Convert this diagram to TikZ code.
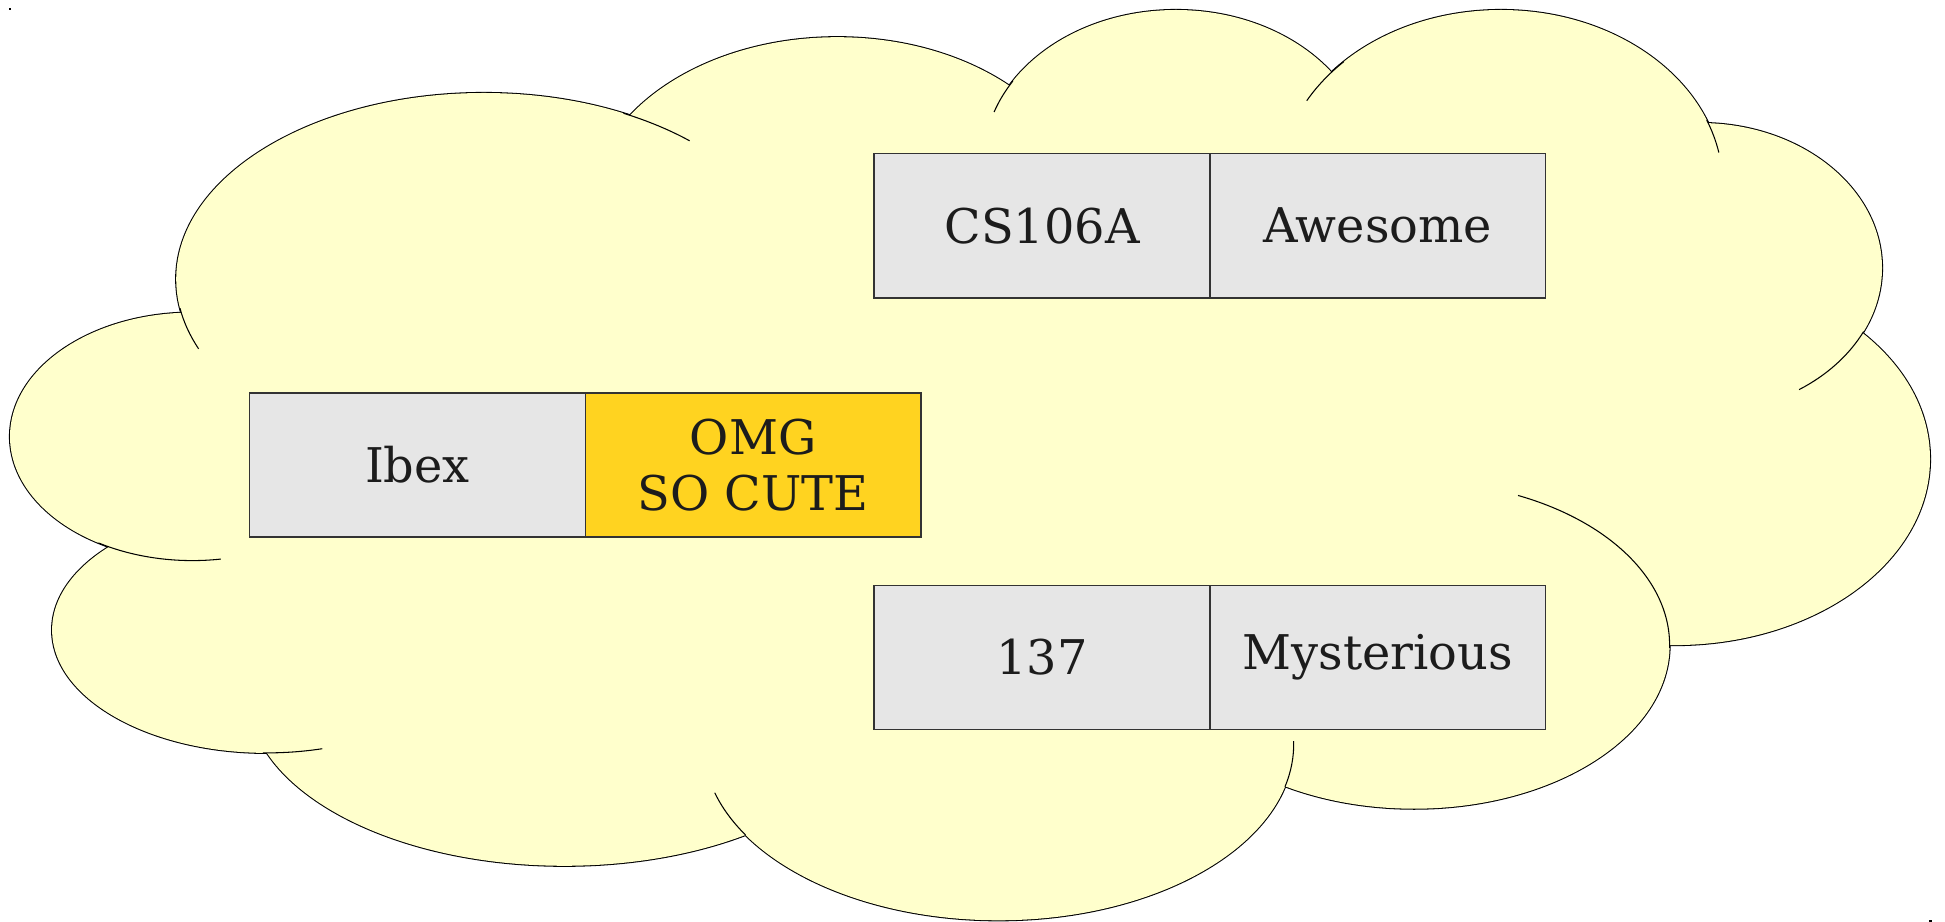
\documentclass[tikz,border=0pt]{standalone}
\usepackage{fontspec}
\setmainfont{DejaVu Serif}
\usepackage{tikz}
\usetikzlibrary{positioning}
\definecolor{cloudbg}{HTML}{FFFFCC}
\definecolor{cellgray}{HTML}{E6E6E6}
\definecolor{cellgold}{HTML}{FFD320}
\definecolor{celltext}{HTML}{1C1C1C}
\tikzset{
  cloudedge/.style = {fill=cloudbg,draw=black,line width=0.6pt},
  cloudfill/.style = {fill=cloudbg},
  cloudline/.style = {draw=black,line width=0.3pt},
  cell/.style      = {draw=black!80,line width=0.4pt,fill=cellgray,text=celltext,
                      minimum width=3.355cm,minimum height=1.44cm,inner sep=0pt,
                      outer sep=0pt,align=center,
                      font=\fontsize{13.6}{15.7}\selectfont},
  hot/.style       = {cell,fill=cellgold},
}
% all lobes of the cloud, one style applied to each
\newcommand{\cloudlobes}[1]{%
  \foreach \cx/\cy/\rx/\ry in {192.3/436.6/182.3/124.0, 483.8/279.1/307.6/186.1,
      837.3/210.9/248.1/173.7, 1175.9/161.3/192.3/151.3, 1500.9/186.1/222.0/176.1,
      1700.0/268.0/182.0/145.0, 1674.5/459.0/255.5/186.1, 1414.1/645.0/255.5/163.7,
      998.5/744.2/295.2/176.1, 564.4/694.6/316.3/171.2, 266.7/630.1/214.6/122.8}
    {\path[#1] (\cx,\cy) ellipse[x radius=\rx,y radius=\ry];}%
}
% piece of a lobe outline running on inside the cloud
\newcommand{\cloudstub}[6]{%
  \draw[cloudline] (#1,#2) ++(#5:#3 and #4)
    arc[start angle=#5,end angle=#6,x radius=#3,y radius=#4];%
}

\begin{document}
\begin{tikzpicture}[x=0.01cm,y=-0.01cm]
  \useasboundingbox (0,0) rectangle (1945,922);

  % outline first, then fill over it so only the outer edge is left
  \cloudlobes{cloudedge}
  \cloudlobes{cloudfill}
  \fill[cloudfill] (192,437) -- (484,279) -- (837,211) -- (1176,161) -- (1501,186)
    -- (1700,268) -- (1675,459) -- (1414,645) -- (999,744) -- (564,695)
    -- (267,630) -- cycle;

  \cloudstub{192.3}{436.6}{182.3}{124.0}{121}{81}
  \cloudstub{483.8}{279.1}{307.6}{186.1}{171}{158}
  \cloudstub{483.8}{279.1}{307.6}{186.1}{297}{312}
  \cloudstub{1175.9}{161.3}{192.3}{151.3}{212}{199}
  \cloudstub{1500.9}{186.1}{222.0}{176.1}{225}{209}
  \cloudstub{1500.9}{186.1}{222.0}{176.1}{338}{349}
  \cloudstub{1700.0}{268.0}{182.0}{145.0}{26}{57}
  \cloudstub{1414.1}{645.0}{255.5}{163.7}{361}{294}
  \cloudstub{998.5}{744.2}{295.2}{176.1}{14}{-1}
  \cloudstub{998.5}{744.2}{295.2}{176.1}{149}{164}
  \cloudstub{266.7}{630.1}{214.6}{122.8}{91}{75}

  % corner marks
  \fill (9,8) rectangle (11,10);
  \fill (1929,920) rectangle (1932,922);

  \node[cell] (cs106a) at (1042,225.8) {CS106A};
  \node[cell,right=0pt of cs106a] (awesome) {Awesome};
  \node[cell] (ibex) at (417.4,465.1) {Ibex};
  \node[hot,right=0pt of ibex] (omg) {OMG\\SO CUTE};
  \node[cell] (num137) at (1042,657.4) {137};
  \node[cell,right=0pt of num137] (mysterious) {Mysterious};
\end{tikzpicture}
\end{document}
